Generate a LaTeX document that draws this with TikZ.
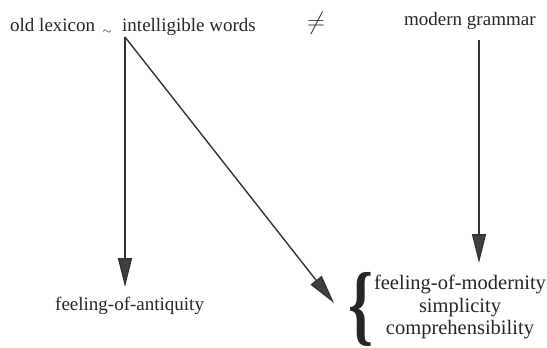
\documentclass[tikz,border=0pt]{standalone}
\usepackage{fontspec}
\usepackage{graphicx}
\setmainfont{Liberation Serif}
\usetikzlibrary{arrows.meta}
\begin{document}
\begin{tikzpicture}[x=1pt,y=-1pt,
  txt/.style={inner sep=0pt,font=\fontsize{19}{22.5}\selectfont,text=black!85},
  rtxt/.style={inner sep=0pt,font=\fontsize{20.5}{22.5}\selectfont,text=black!85,align=center},
  arr/.style={line width=1.4pt,draw=black!80,-{Triangle[length=29pt,width=14pt,fill=black!75]}}]
\useasboundingbox (0,0) rectangle (547,348);
\node[txt,anchor=base west] (old) at (10,31) {old lexicon};
\node[inner sep=0pt,text=black!85,font=\fontsize{13}{13}\selectfont,anchor=center] (tl) at (107,32) {$\sim$};
\node[txt,anchor=base west] (iw) at (122,31) {intelligible words};
\node[inner sep=0pt,text=black!80,font=\fontsize{30}{30}\selectfont,anchor=center] (ne) at (316,23) {$\neq$};
\node[txt,anchor=base west] (mg) at (404,25) {modern grammar};
\node[txt,anchor=base west] (ant) at (55,310) {feeling-of-antiquity};
\node[inner sep=0pt,text=black!85,anchor=center] (br) at (361,309) {\resizebox*{25pt}{74pt}{\textbf{\{}}};
\node[rtxt,anchor=north] (mod) at (460,275) {feeling-of-modernity\\ simplicity\\ comprehensibility};
\coordinate (s) at (125,37);
\coordinate (t1) at (125,287);
\coordinate (t2) at (334,303);
\coordinate (s3) at (479,40);
\coordinate (t3) at (479,263);
\draw[arr] (s) -- (t1);
\draw[arr] (s) -- (t2);
\draw[arr] (s3) -- (t3);
\end{tikzpicture}
\end{document}
